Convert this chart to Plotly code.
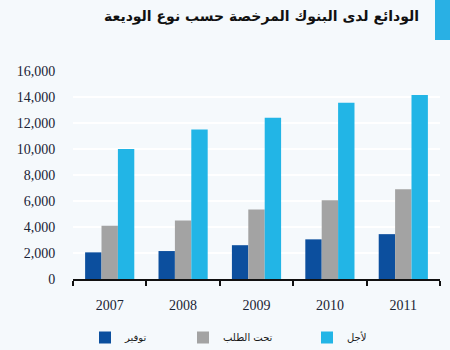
import plotly.graph_objects as go

years = ["2007", "2008", "2009", "2010", "2011"]
savings = [2050, 2150, 2600, 3050, 3450]        # توفير
demand = [4100, 4500, 5350, 6050, 6900]         # تحت الطلب
term = [10000, 11500, 12400, 13550, 14150]      # لأجل
series_names = ["توفير", "تحت الطلب", "لأجل"]
colors = ["#0c4f9e", "#a3a3a3", "#22b5e6"]
title_text = "الودائع لدى البنوك المرخصة حسب نوع الوديعة"

W, H = 450, 350
L, R, T, B = 73, 10, 71, 71
pw, ph = W - L - R, H - T - B

def px_x(x):
    return (x - L) / pw

def px_y(y):
    return (H - B - y) / ph

fig = go.Figure()
for i, (name, vals) in enumerate(zip(series_names, [savings, demand, term])):
    fig.add_trace(go.Bar(
        x=years, y=vals, name=name, marker_color=colors[i],
        marker_line_width=0,
        legend="legend" if i == 0 else f"legend{i+1}",
    ))

legend_common = dict(
    orientation="h", yanchor="top", xanchor="left",
    xref="container", yref="container",
    font=dict(family="DejaVu Sans", size=10, color="#1a1a1a"),
    bgcolor="rgba(0,0,0,0)", itemwidth=30,
)
leg_x = [85, 183, 307]
leg_y = (H - 323) / H
fig.update_layout(
    width=W, height=H,
    margin=dict(l=L, r=R, t=T, b=B),
    paper_bgcolor="#f5f9fc",
    plot_bgcolor="#f5f9fc",
    barmode="group", bargap=0.33, bargroupgap=0,
    showlegend=True,
    legend=dict(x=leg_x[0] / W, y=leg_y, **legend_common),
    legend2=dict(x=leg_x[1] / W, y=leg_y, **legend_common),
    legend3=dict(x=leg_x[2] / W, y=leg_y, **legend_common),
    xaxis=dict(
        showline=True, linecolor="#111111", linewidth=2,
        ticks="outside", tickson="boundaries", ticklen=5, tickcolor="#111111",
        tickwidth=2, ticklabelstandoff=12,
        tickfont=dict(family="Liberation Serif", size=14, color="#1a2335"),
        showgrid=False,
    ),
    yaxis=dict(
        range=[0, 16000], tickvals=list(range(0, 16001, 2000)),
        tickformat=",d",
        showgrid=True, gridcolor="#ffffff", gridwidth=2,
        zeroline=False, showline=False,
        ticks="outside", ticklen=14, tickcolor="rgba(0,0,0,0)",
        tickfont=dict(family="Liberation Serif", size=14, color="#1a2335"),
    ),
    shapes=[dict(type="rect", xref="paper", yref="paper",
                 x0=px_x(435), x1=px_x(452), y0=px_y(40), y1=px_y(-2),
                 fillcolor="#29b0e4", line_width=0, layer="above")],
    annotations=[dict(text="<b>" + title_text + "</b>", xref="paper", yref="paper",
                      x=px_x(421), y=px_y(16), xanchor="right", yanchor="middle",
                      showarrow=False,
                      font=dict(family="DejaVu Sans", size=14, color="#111111"))],
)

fig.write_html("out.html")
